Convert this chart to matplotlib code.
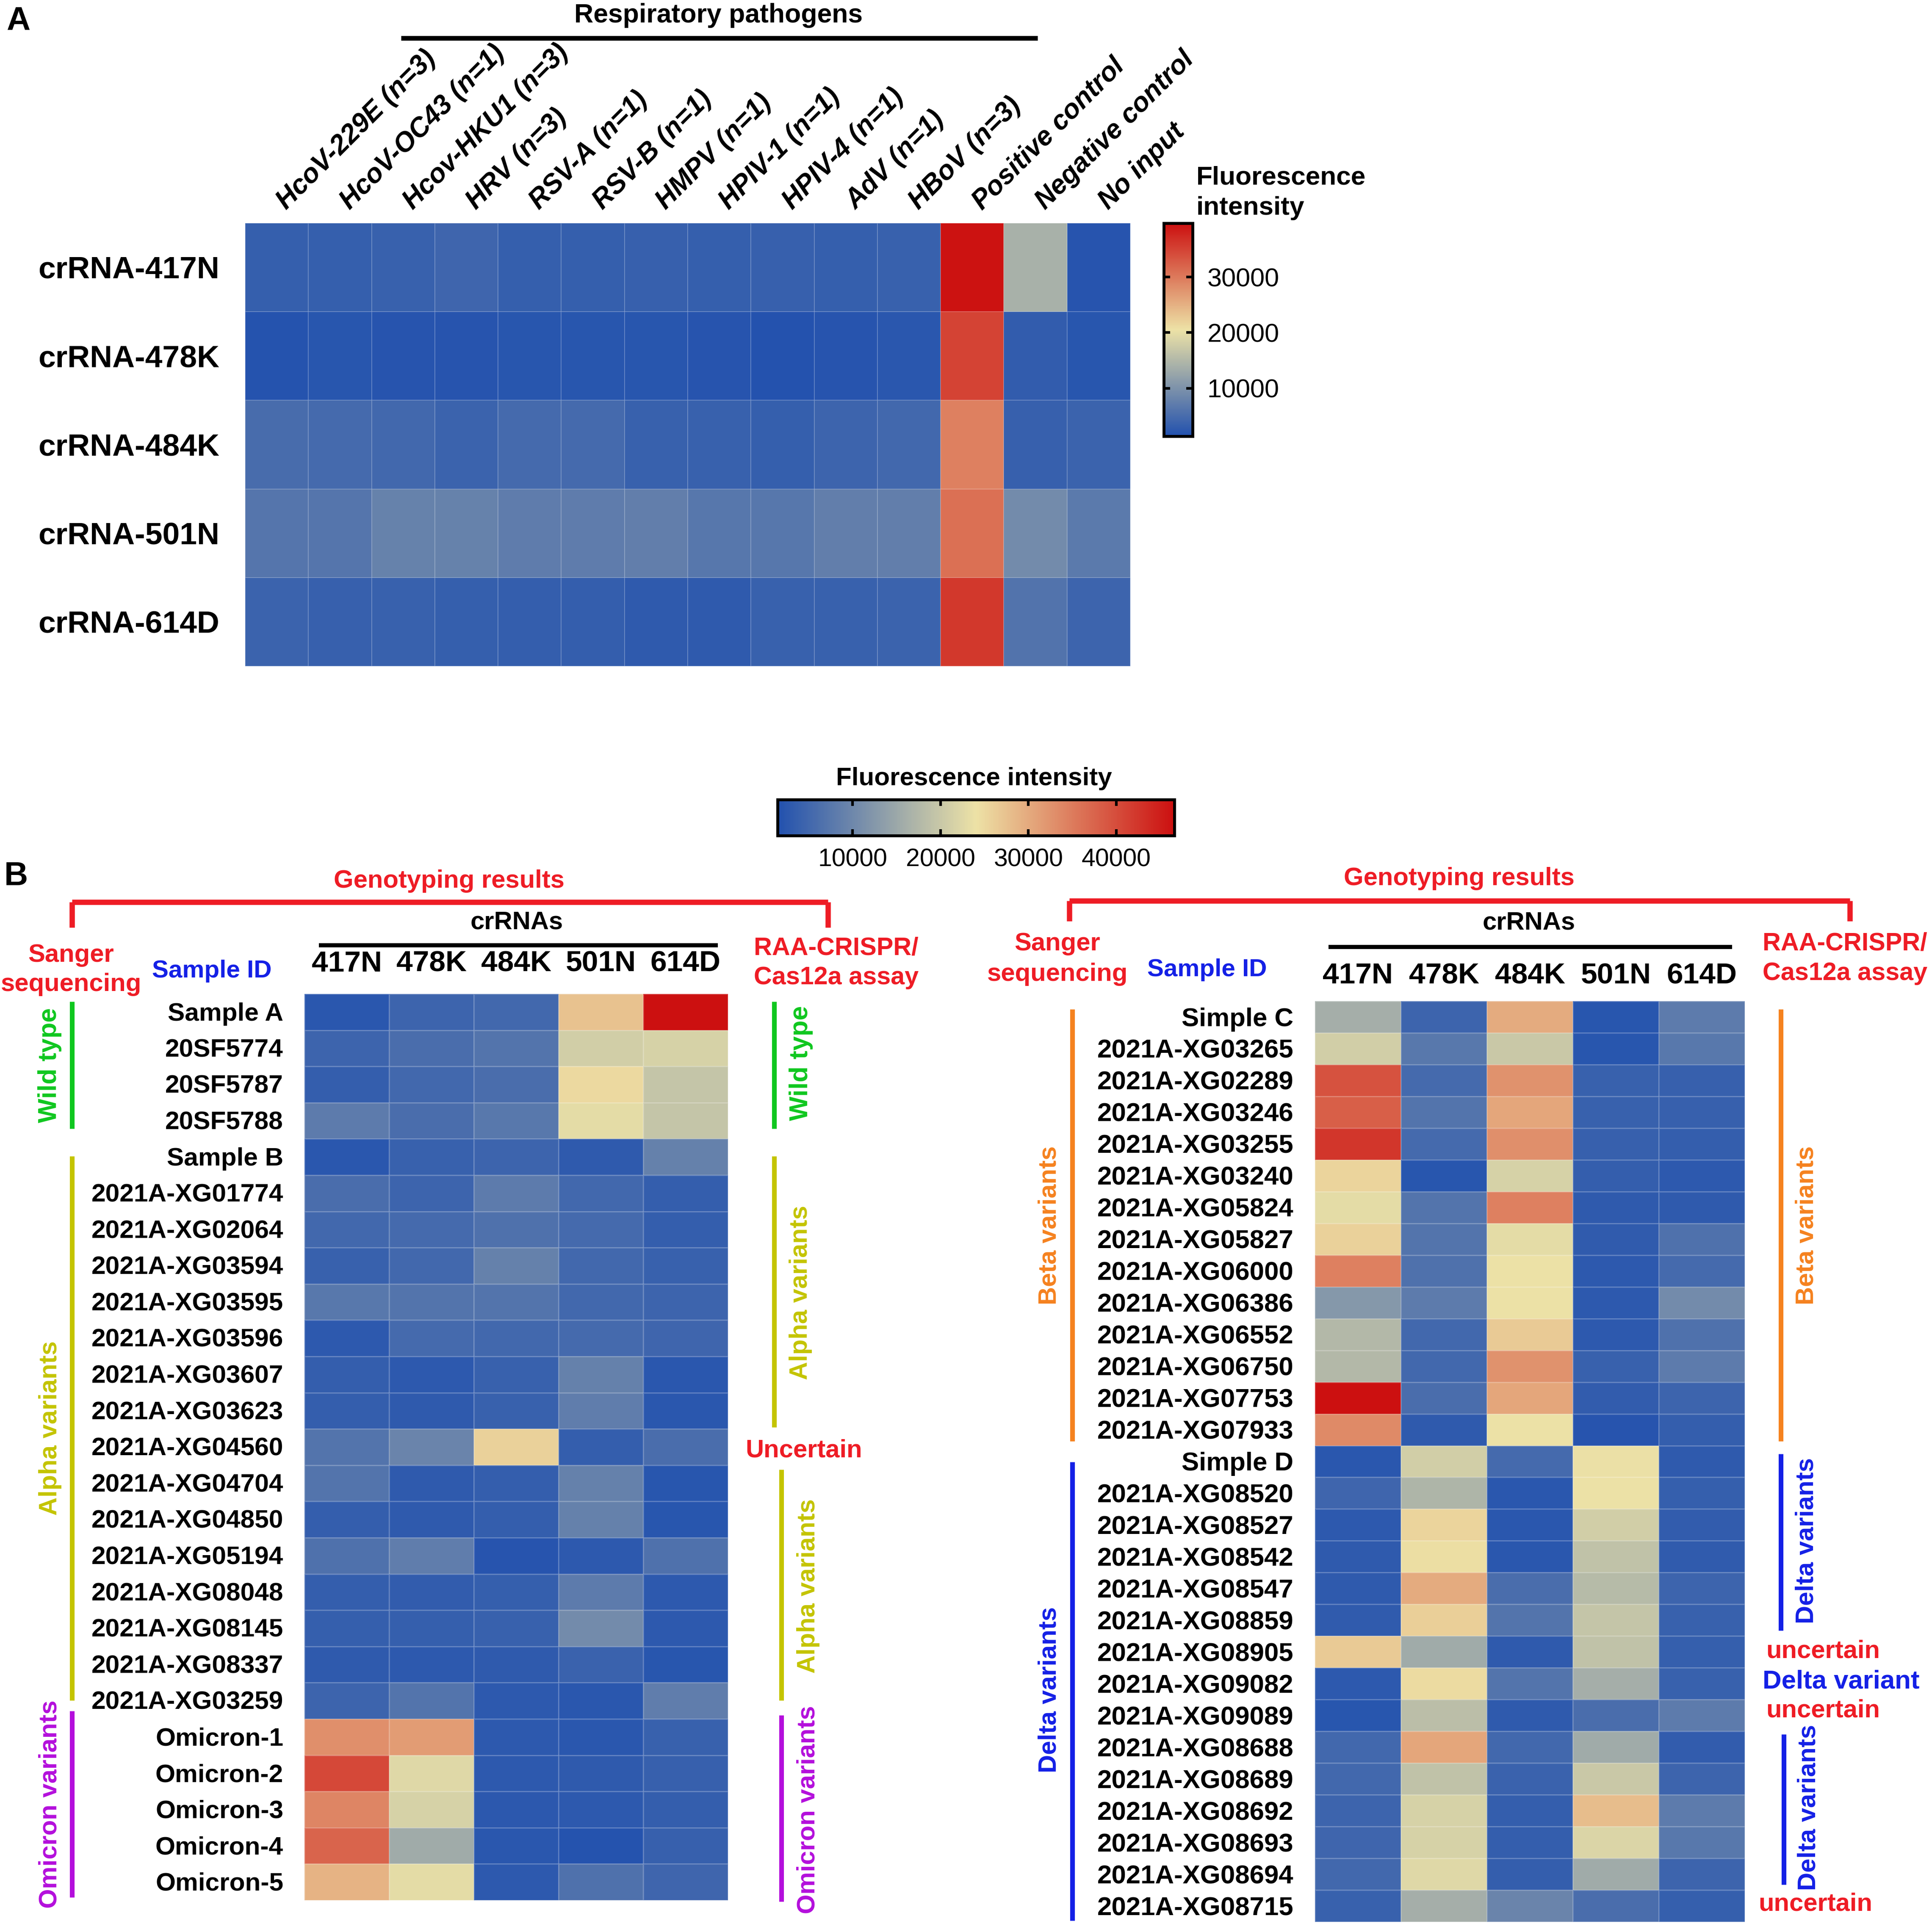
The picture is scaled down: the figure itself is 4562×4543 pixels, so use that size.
import numpy as np
import matplotlib
matplotlib.use('Agg')
import matplotlib.pyplot as plt
from matplotlib.colors import LinearSegmentedColormap, Normalize
from matplotlib.cm import ScalarMappable

plt.rcParams['font.family'] = ['Liberation Sans', 'DejaVu Sans']
plt.rcParams['font.weight'] = 'bold'

W, H = 4562, 4543

# Panel A
pathogens = ['HcoV-229E (n=3)', 'HcoV-OC43 (n=1)', 'Hcov-HKU1 (n=3)', 'HRV (n=3)', 'RSV-A (n=1)',
             'RSV-B (n=1)', 'HMPV (n=1)', 'HPIV-1 (n=1)', 'HPIV-4 (n=1)', 'AdV (n=1)', 'HBoV (n=3)',
             'Positive control', 'Negative control', 'No input']
crrna_a = ['crRNA-417N', 'crRNA-478K', 'crRNA-484K', 'crRNA-501N', 'crRNA-614D']
row_417n = [3300, 3300, 3500, 4200, 3300, 3300, 3400, 3300, 3400, 3300, 3500, 39500, 14000, 1900]
row_478k = [1700, 2000, 1900, 1900, 2000, 2000, 2000, 1900, 1600, 1900, 2200, 35000, 3000, 2000]
row_484k = [5000, 4700, 4500, 3800, 4800, 4800, 3600, 3600, 3300, 4000, 4500, 29500, 3400, 3900]
row_501n = [6200, 6200, 7800, 7800, 7200, 7200, 7400, 6400, 6400, 7400, 7400, 31000, 9000, 6800]
row_614d = [3900, 3400, 3600, 3200, 3100, 3100, 2700, 2600, 3600, 3600, 3900, 36000, 6000, 4000]
values_a = [row_417n, row_478k, row_484k, row_501n, row_614d]

# Panel B
crrna_b = ['417N', '478K', '484K', '501N', '614D']
samples_left = ['Sample A', '20SF5774', '20SF5787', '20SF5788', 'Sample B', '2021A-XG01774', '2021A-XG02064',
                '2021A-XG03594', '2021A-XG03595', '2021A-XG03596', '2021A-XG03607', '2021A-XG03623',
                '2021A-XG04560', '2021A-XG04704', '2021A-XG04850', '2021A-XG05194', '2021A-XG08048',
                '2021A-XG08145', '2021A-XG08337', '2021A-XG03259', 'Omicron-1', 'Omicron-2', 'Omicron-3',
                'Omicron-4', 'Omicron-5']
values_left = [
    [2500, 4500, 5000, 27500, 46500],
    [4500, 6000, 7000, 21000, 21500],
    [3500, 5000, 6000, 25000, 19500],
    [8000, 6000, 7500, 23000, 19500],
    [2500, 4000, 4500, 3000, 9000],
    [6000, 4500, 8000, 5000, 3500],
    [5000, 5500, 6500, 5500, 3500],
    [4000, 5000, 9000, 5000, 4000],
    [7500, 7000, 7000, 5000, 4500],
    [2800, 5500, 5000, 5500, 4800],
    [3500, 2700, 4000, 9000, 2500],
    [3500, 3000, 4000, 8500, 2500],
    [7000, 9500, 25800, 3500, 6000],
    [7000, 3000, 3500, 9000, 2200],
    [3500, 3000, 3500, 9000, 2200],
    [6500, 8500, 2000, 2700, 6500],
    [3500, 3300, 3700, 8000, 2800],
    [3700, 3700, 4000, 10500, 2800],
    [3000, 2800, 3000, 4200, 2300],
    [4500, 7000, 2800, 2500, 8500],
    [33000, 31500, 2800, 2500, 4000],
    [40500, 22500, 2700, 3000, 3800],
    [34000, 21500, 2600, 2700, 3500],
    [37500, 15500, 2400, 1900, 3800],
    [29000, 23000, 2800, 6500, 4800],
]
samples_right = ['Simple C', '2021A-XG03265', '2021A-XG02289', '2021A-XG03246', '2021A-XG03255', '2021A-XG03240',
                 '2021A-XG05824', '2021A-XG05827', '2021A-XG06000', '2021A-XG06386', '2021A-XG06552',
                 '2021A-XG06750', '2021A-XG07753', '2021A-XG07933', 'Simple D', '2021A-XG08520', '2021A-XG08527',
                 '2021A-XG08542', '2021A-XG08547', '2021A-XG08859', '2021A-XG08905', '2021A-XG09082',
                 '2021A-XG09089', '2021A-XG08688', '2021A-XG08689', '2021A-XG08692', '2021A-XG08693',
                 '2021A-XG08694', '2021A-XG08715']
values_right = [
    [16000, 4500, 30000, 2200, 8000],
    [21000, 7500, 20000, 2300, 7500],
    [39500, 5500, 32500, 4000, 3800],
    [38000, 7000, 30500, 4000, 3800],
    [42500, 5500, 33000, 3800, 3500],
    [25500, 2200, 21500, 3500, 2700],
    [23000, 7000, 34500, 3000, 2900],
    [25800, 7000, 23000, 3200, 6500],
    [34500, 6500, 24000, 2700, 5500],
    [12500, 8000, 24000, 2700, 10500],
    [17500, 5000, 26500, 2800, 6500],
    [17500, 5000, 32500, 4000, 8000],
    [46500, 6000, 30500, 3300, 4500],
    [33500, 3000, 24000, 2000, 3500],
    [2500, 21000, 5500, 23800, 3000],
    [4800, 17000, 2400, 24000, 3700],
    [2700, 25500, 2400, 21000, 3300],
    [2900, 24500, 2400, 19000, 3200],
    [2900, 30000, 6000, 18000, 4500],
    [3200, 26000, 7000, 19500, 4000],
    [26500, 15500, 3000, 19000, 3700],
    [2800, 24800, 7000, 16000, 4000],
    [2200, 18500, 3000, 6000, 8000],
    [5000, 30500, 5000, 15500, 3300],
    [5000, 19000, 4200, 20000, 4500],
    [4500, 21500, 3500, 28000, 8000],
    [4700, 21500, 3500, 22000, 7500],
    [5000, 22500, 3500, 15500, 4500],
    [4000, 16000, 9500, 6000, 3700],
]

RED = '#ee1c25'
BLUE = '#1420e6'
GREEN = '#0fc71f'
OLIVE = '#c4c400'
ORANGE = '#f5821f'
PURPLE = '#b40fdc'

cmap = LinearSegmentedColormap.from_list('fluor', ['#2251ae', '#ede2a6', '#cc1010'])
norm_a = Normalize(1360, 39700)
norm_b = Normalize(1450, 46600)

fig = plt.figure(figsize=(W / 100, H / 100), dpi=100)


def add_ax(x0, y0, x1, y1):
    # pixel box, y measured from the top
    return fig.add_axes([x0 / W, 1 - y1 / H, (x1 - x0) / W, (y1 - y0) / H])


def tx(x, y, s, color='black', size=43, ha='left', va='center', rot=0, **kw):
    if rot:
        x += 6
    else:
        y += 9
    fig.text(x / W, 1 - y / H, s, color=color, fontsize=size, ha=ha, va=va, rotation=rot,
             fontweight='bold', **kw)


def seg(x0, y0, x1, y1, color, lw=8):
    fig.add_artist(plt.Line2D([x0 / W, x1 / W], [1 - y0 / H, 1 - y1 / H], color=color, lw=lw,
                              solid_capstyle='butt', solid_joinstyle='miter'))


def heat(ax, data, norm, grid_lw=1.0):
    ax.pcolormesh(np.array(data), cmap=cmap, norm=norm, edgecolors='#ffffff30', linewidth=grid_lw)
    ax.invert_yaxis()
    ax.set_xticks([])
    ax.set_yticks([])
    for sp in ax.spines.values():
        sp.set_visible(False)


# ---- Panel A
ax_a = add_ax(579, 527, 2669, 1573)
heat(ax_a, values_a, norm_a, 1.2)
for i, lab in enumerate(pathogens):
    ax_a.text(i + 0.57, -0.2, lab, rotation=45, rotation_mode='anchor', ha='left', va='center',
              fontsize=46, style='italic', fontweight='bold', color='black', clip_on=False)
for i, lab in enumerate(crrna_a):
    ax_a.text(-0.41, i + 0.53, lab, ha='right', va='center', fontsize=52.8, fontweight='bold', clip_on=False)

tx(15, 41, 'A', size=56)
tx(1697, 27, 'Respiratory pathogens', size=45, ha='center')
seg(947, 90, 2450, 90, 'black', 8)
tx(2825, 411, 'Fluorescence', size=44.7)
tx(2825, 483, 'intensity', size=44.7)

cax_a = add_ax(2748, 527, 2816, 1030)
cb_a = fig.colorbar(ScalarMappable(norm=norm_a, cmap=cmap), cax=cax_a)
cb_a.set_ticks([10000, 20000, 30000])
cax_a.tick_params(axis='y', direction='in', left=True, right=True, length=11, width=4.5, labelsize=44, pad=25)
cb_a.outline.set_linewidth(5)
for t in cax_a.get_yticklabels():
    t.set_fontweight('normal')

# ---- Colorbar panel B
cax_b = add_ax(1836, 1888, 2773, 1973)
cb_b = fig.colorbar(ScalarMappable(norm=norm_b, cmap=cmap), cax=cax_b, orientation='horizontal')
cb_b.set_ticks([10000, 20000, 30000, 40000])
cax_b.tick_params(axis='x', direction='in', top=True, bottom=True, length=11, width=4.5, labelsize=42.5, pad=21)
cb_b.outline.set_linewidth(5)
for t in cax_b.get_xticklabels():
    t.set_fontweight('normal')
tx(2300, 1830, 'Fluorescence intensity', size=43.3, ha='center')
tx(10, 2061, 'B', size=56)


def sample_heat(box, data, samples, label_x, label_size, y_off, head_y):
    ax = add_ax(*box)
    heat(ax, data, norm_b, 1.0)
    for i, lab in enumerate(samples):
        ax.text(label_x, i + 0.5 + y_off, lab, ha='right', va='center', fontsize=label_size, fontweight='bold',
                clip_on=False, transform=ax.get_yaxis_transform())
    for j, lab in enumerate(crrna_b):
        ax.text(j + 0.5, head_y, lab, ha='center', va='center', fontsize=50, fontweight='bold', clip_on=False)
    return ax


# ---- Panel B left
sample_heat((719, 2347, 1719, 4487), values_left, samples_left, -0.05, 43.5, 0.05, -0.83)
tx(1060, 2071, 'Genotyping results', RED, 43, ha='center')
seg(170, 2190, 170, 2130, RED, 9)
seg(170, 2130, 1955, 2130, RED, 9)
seg(1955, 2130, 1955, 2190, RED, 9)
tx(1220, 2169, 'crRNAs', 'black', 43, ha='center')
seg(753, 2232, 1695, 2232, 'black', 7)
tx(168, 2246, 'Sanger', RED, 43, ha='center')
tx(168, 2316, 'sequencing', RED, 43, ha='center')
tx(500, 2284, 'Sample ID', BLUE, 42, ha='center')
tx(1780, 2230, 'RAA-CRISPR/', RED, 42.7)
tx(1780, 2300, 'Cas12a assay', RED, 42.7)
seg(170, 2365, 170, 2665, GREEN, 8)
seg(170, 2730, 170, 4015, OLIVE, 8)
seg(170, 4040, 170, 4480, PURPLE, 8)
tx(112, 2515, 'Wild type', GREEN, 44, ha='center', rot=90)
tx(112, 3372, 'Alpha variants', OLIVE, 43, ha='center', rot=90)
tx(112, 4260, 'Omicron variants', PURPLE, 43, ha='center', rot=90)
seg(1828, 2365, 1828, 2665, GREEN, 8)
seg(1828, 2730, 1828, 3370, OLIVE, 8)
seg(1845, 3470, 1845, 4015, OLIVE, 8)
seg(1845, 4050, 1845, 4490, PURPLE, 8)
tx(1885, 2510, 'Wild type', GREEN, 44, ha='center', rot=90)
tx(1885, 3052, 'Alpha variants', OLIVE, 43, ha='center', rot=90)
tx(1902, 3745, 'Alpha variants', OLIVE, 43, ha='center', rot=90)
tx(1902, 4273, 'Omicron variants', PURPLE, 43, ha='center', rot=90)
tx(1760, 3416, 'Uncertain', RED, 43)

# ---- Panel B right
sample_heat((3105, 2364, 4120, 4538), values_right, samples_right, -0.05, 44.5, 0.08, -0.8)
tx(3445, 2066, 'Genotyping results', RED, 43, ha='center')
seg(2525, 2175, 2525, 2127, RED, 9)
seg(2525, 2127, 4368, 2127, RED, 9)
seg(4368, 2127, 4368, 2175, RED, 9)
tx(3610, 2170, 'crRNAs', 'black', 43, ha='center')
seg(3137, 2236, 4090, 2236, 'black', 7)
tx(2497, 2220, 'Sanger', RED, 43, ha='center')
tx(2497, 2291, 'sequencing', RED, 43, ha='center')
tx(2850, 2281, 'Sample ID', BLUE, 42, ha='center')
tx(4162, 2219, 'RAA-CRISPR/', RED, 42.7)
tx(4162, 2290, 'Cas12a assay', RED, 42.7)
seg(2532, 2383, 2532, 3403, ORANGE, 8)
seg(2532, 3452, 2532, 4535, BLUE, 8)
tx(2472, 2893, 'Beta variants', ORANGE, 43, ha='center', rot=90)
tx(2472, 3990, 'Delta variants', BLUE, 43, ha='center', rot=90)
seg(4205, 2383, 4205, 3403, ORANGE, 8)
seg(4205, 3433, 4205, 3850, BLUE, 8)
seg(4212, 4095, 4212, 4450, BLUE, 8)
tx(4260, 2893, 'Beta variants', ORANGE, 43, ha='center', rot=90)
tx(4260, 3638, 'Delta variants', BLUE, 43, ha='center', rot=90)
tx(4265, 4268, 'Delta variants', BLUE, 43, ha='center', rot=90)
tx(4170, 3890, 'uncertain', RED, 43)
tx(4162, 3962, 'Delta variant', BLUE, 44.5)
tx(4170, 4030, 'uncertain', RED, 43)
tx(4152, 4487, 'uncertain', RED, 43)

fig.savefig('out.png', dpi=100)
